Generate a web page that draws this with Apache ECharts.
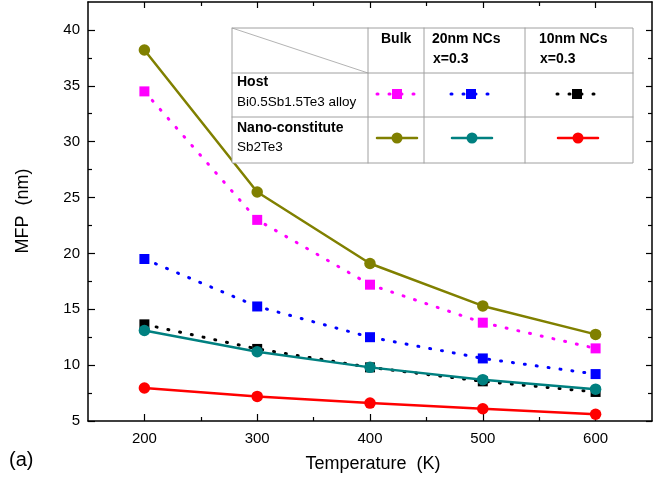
<!DOCTYPE html>
<html><head><meta charset="utf-8">
<script src="https://cdn.jsdelivr.net/npm/echarts@6/dist/echarts.min.js"></script>
<style>html,body{margin:0;padding:0;background:#fff}#c{width:663px;height:485px}</style>
</head><body><div id="c"></div>
<script>
var temperatures = [200, 300, 400, 500, 600];
var bulkHost = [34.5, 23.0, 17.2, 13.8, 11.5];
var bulkNano = [38.2, 25.5, 19.1, 15.3, 12.75];
var nc20Host = [19.5, 15.25, 12.5, 10.6, 9.2];
var nc20Nano = [13.1, 11.2, 9.8, 8.7, 7.85];
var nc10Host = [13.65, 11.45, 9.8, 8.55, 7.6];
var nc10Nano = [7.95, 7.2, 6.6, 6.1, 5.6];
var xMajorTicks = [200, 300, 400, 500, 600];
var xMinorTicks = [250, 350, 450, 550];
var yMajorTicks = [5, 10, 15, 20, 25, 30, 35, 40];
var yMinorTicks = [7.5, 12.5, 17.5, 22.5, 27.5, 32.5, 37.5];

function pairs(vals){ return temperatures.map(function(t,i){return [t, vals[i]];}); }
var FONT = 'Liberation Sans, Arial, sans-serif';
var chart = echarts.init(document.getElementById('c'));

function xAx(pos, ticks, len, labels, line){
  return {type:'value', min:150, max:650, position:pos,
    axisLine:{show:line, lineStyle:{color:'#000', width:1.5}},
    axisTick:{show:true, inside:true, length:len, customValues:ticks, lineStyle:{color:'#000', width:1.2}},
    axisLabel:{show:labels, customValues:ticks, color:'#000', fontSize:15, fontFamily:FONT, margin:10},
    splitLine:{show:false}};
}
function yAx(pos, ticks, len, labels, line){
  return {type:'value', min:5, max:42.5, position:pos,
    axisLine:{show:line, lineStyle:{color:'#000', width:1.5}},
    axisTick:{show:true, inside:true, length:len, customValues:ticks, lineStyle:{color:'#000', width:1.2}},
    axisLabel:{show:labels, customValues:ticks, color:'#000', fontSize:15, fontFamily:FONT, margin:8},
    splitLine:{show:false}};
}
var dot = [1, 11];
function ser(name, data, color, symbol, size, dashed){
  return {name:name, type:'line', data:pairs(data), xAxisIndex:0, yAxisIndex:0,
    symbol:symbol, symbolSize:size, showSymbol:true,
    lineStyle:{color:color, width: dashed?3:2.5, type: dashed?dot:'solid', cap:'round'},
    itemStyle:{color:color, borderWidth:0}, z: 3, animation:false};
}
var G = '#a0a0a0';
var tx = function(x,y,text,bold,size){return {type:'text', x:x, y:y, style:{text:text, fill:'#000', font:(bold?'bold ':'')+size+'px '+FONT, textVerticalAlign:'middle'}, z:10};};
var ln = function(x1,y1,x2,y2,color,w,dash){return {type:'line', shape:{x1:x1,y1:y1,x2:x2,y2:y2}, style:{stroke:color, lineWidth:w, lineDash:dash||null, lineCap:'round'}, z:10};};
function sample(cx, cy, color, square, dashed){
  var els = [];
  if (dashed){ els.push(ln(cx-20,cy,cx+20,cy,color,3,[1,11])); }
  else { els.push(ln(cx-20,cy,cx+20,cy,color,2.5)); }
  if (square) els.push({type:'rect', shape:{x:cx-5,y:cy-5,width:10,height:10}, style:{fill:color}, z:11});
  else els.push({type:'circle', shape:{cx:cx,cy:cy,r:5.5}, style:{fill:color}, z:11});
  return els;
}
var graphics = [
  {type:'rect', shape:{x:232,y:28,width:401,height:135}, style:{fill:'#fff', stroke:G, lineWidth:1}, z:9},
  ln(232,73,633,73,G,1), ln(232,117,633,117,G,1),
  ln(368,28,368,163,G,1), ln(424,28,424,163,G,1), ln(525,28,525,163,G,1),
  ln(232,28,368,73,G,0.8),
  tx(381,39,'Bulk',true,14),
  tx(432,39,'20nm NCs',true,14), tx(433,59,'x=0.3',true,14),
  tx(539,39,'10nm NCs',true,14), tx(540,59,'x=0.3',true,14),
  tx(237,82,'Host',true,14), tx(237,102,'Bi0.5Sb1.5Te3 alloy',false,13.5),
  tx(237,128,'Nano-constitute',true,14), tx(237,147,'Sb2Te3',false,13.5),
  tx(9,460,'(a)',false,20)
].concat(sample(397,94,'#ff00ff',true,true), sample(471,94,'#0000ff',true,true), sample(577,94,'#000000',true,true),
  sample(397,138,'#808000',false,false), sample(472,138,'#008080',false,false), sample(578,138,'#ff0000',false,false));

chart.setOption({
  animation:false,
  backgroundColor:'#fff',
  grid:{left:88, top:2, right:11, bottom:64, containLabel:false},
  xAxis:[xAx('bottom', xMajorTicks, 7, true, true), xAx('bottom', xMinorTicks, 4, false, false),
         xAx('top', xMajorTicks, 6, false, true), xAx('top', xMinorTicks, 4, false, false)],
  yAxis:[yAx('left', yMajorTicks, 7, true, true), yAx('left', yMinorTicks, 4, false, false),
         yAx('right', yMajorTicks, 6, false, true), yAx('right', yMinorTicks, 4, false, false)],
  series:[
    ser('Bulk host', bulkHost, '#ff00ff', 'rect', 10, true),
    ser('20nm host', nc20Host, '#0000ff', 'rect', 10, true),
    ser('10nm host', nc10Host, '#000000', 'rect', 10, true),
    ser('Bulk nano', bulkNano, '#808000', 'circle', 11.5, false),
    ser('20nm nano', nc20Nano, '#008080', 'circle', 11.5, false),
    ser('10nm nano', nc10Nano, '#ff0000', 'circle', 11.5, false)
  ],
  graphic: graphics.concat([
    {type:'text', x:373, y:464, style:{text:'Temperature  (K)', fill:'#000', font:'18px '+FONT, textAlign:'center', textVerticalAlign:'middle'}},
    {type:'text', x:23, y:211, rotation:Math.PI/2, style:{text:'MFP  (nm)', fill:'#000', font:'18px '+FONT, textAlign:'center', textVerticalAlign:'middle'}}
  ])
});
</script></body></html>
